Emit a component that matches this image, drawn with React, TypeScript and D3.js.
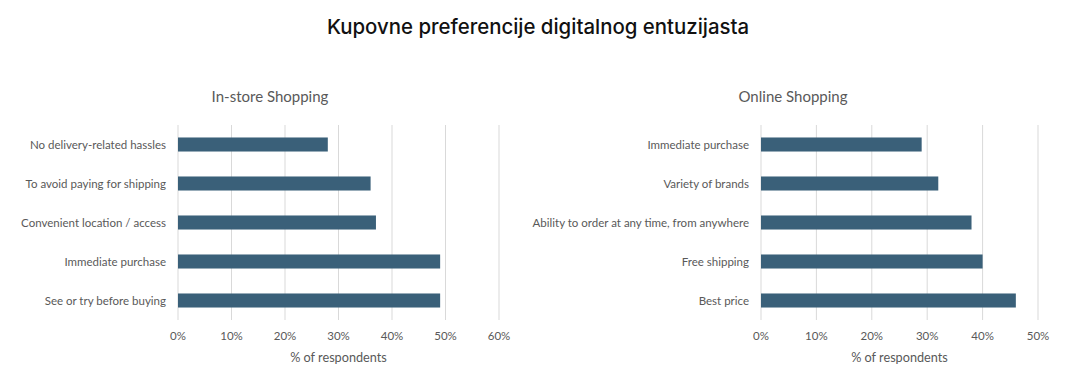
import React from "react";
import * as d3 from "d3";

const chartTitle = "Kupovne preferencije digitalnog entuzijasta";
const inStoreTitle = "In-store Shopping";
const onlineTitle = "Online Shopping";
const axisTitle = "% of respondents";

const inStoreCategories = [
  "No delivery-related hassles",
  "To avoid paying for shipping",
  "Convenient location / access",
  "Immediate purchase",
  "See or try before buying",
];
const inStoreValues = [28, 36, 37, 49, 49];
const inStoreTicks = [0, 10, 20, 30, 40, 50, 60];

const onlineCategories = [
  "Immediate purchase",
  "Variety of brands",
  "Ability to order at any time, from anywhere",
  "Free shipping",
  "Best price",
];
const onlineValues = [29, 32, 38, 40, 46];
const onlineTicks = [0, 10, 20, 30, 40, 50];

const W = 1065;
const H = 379;
const BAR = "#3a6079";
const GRID = "#d9d9d9";
const TEXT = "#595959";
const FONT = "Lato, 'Open Sans', sans-serif";

type PanelProps = {
  title: string;
  cats: string[];
  vals: number[];
  ticks: number[];
  x0: number;
  x1: number;
  titleX: number;
};

function Panel({ title, cats, vals, ticks, x0, x1, titleX }: PanelProps) {
  const x = d3.scaleLinear().domain([0, ticks[ticks.length - 1]]).range([x0, x1]);
  const y = d3
    .scaleBand<string>()
    .domain(cats)
    .range([125, 320])
    .paddingInner(0.64)
    .paddingOuter(0.32);
  const fmt = (v: number) => `${v}%`;
  return (
    <g>
      <text x={titleX} y={102} textAnchor="middle" fontFamily={FONT} fontSize={15} fill={TEXT}>
        {title}
      </text>
      {ticks.map((t) => (
        <line key={"g" + t} x1={x(t)} x2={x(t)} y1={125} y2={320} stroke={GRID} strokeWidth={1} />
      ))}
      {cats.map((c, i) => (
        <rect key={c} x={x(0)} y={y(c)!} width={x(vals[i]) - x(0)} height={y.bandwidth()} fill={BAR} />
      ))}
      {cats.map((c) => (
        <text
          key={"l" + c}
          x={x0 - 12}
          y={y(c)! + y.bandwidth() / 2}
          dy="0.35em"
          textAnchor="end"
          fontFamily={FONT}
          fontSize={11.5}
          fill={TEXT}
        >
          {c}
        </text>
      ))}
      {ticks.map((t) => (
        <text key={"t" + t} x={x(t)} y={340} textAnchor="middle" fontFamily={FONT} fontSize={11.5} fill={TEXT}>
          {fmt(t)}
        </text>
      ))}
      <text x={(x0 + x1) / 2} y={362} textAnchor="middle" fontFamily={FONT} fontSize={12.7} fill={TEXT}>
        {axisTitle}
      </text>
    </g>
  );
}

export default function App() {
  return (
    <svg
      width={W}
      height={H}
      viewBox={`0 0 ${W} ${H}`}
      style={{ position: "absolute", left: 0, top: 0, background: "#fff" }}
    >
      <rect width={W} height={H} fill="#fff" />
      <text x={538} y={34} textAnchor="middle" fontFamily="Inter, sans-serif" fontSize={20.4} fontWeight={500} fill="#111">
        {chartTitle}
      </text>
      <Panel
        title={inStoreTitle}
        cats={inStoreCategories}
        vals={inStoreValues}
        ticks={inStoreTicks}
        x0={178}
        x1={499}
        titleX={270}
      />
      <Panel
        title={onlineTitle}
        cats={onlineCategories}
        vals={onlineValues}
        ticks={onlineTicks}
        x0={761}
        x1={1038}
        titleX={793}
      />
    </svg>
  );
}
